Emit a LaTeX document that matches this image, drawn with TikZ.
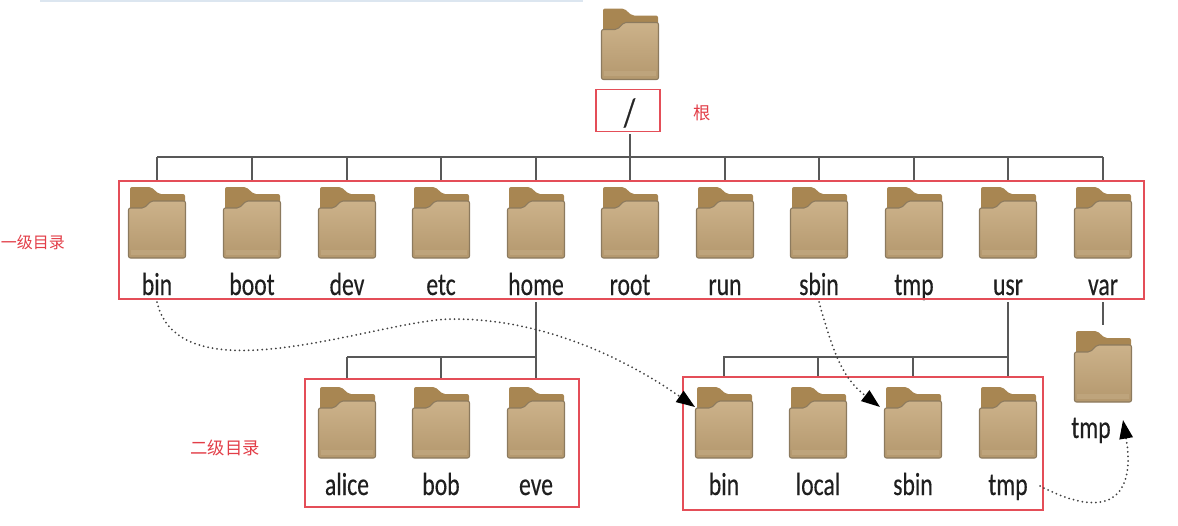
\documentclass[tikz,border=0pt]{standalone}
\usepackage{fontspec}
\setmainfont{Carlito}
\newfontfamily\dirfont[FakeStretch=0.74,FakeBold=0.3]{Carlito}
\newfontfamily\cjkfont{Noto Sans CJK SC}
\definecolor{boxred}{RGB}{228,78,88}
\definecolor{textred}{RGB}{226,62,72}
\definecolor{treegray}{RGB}{88,88,88}
\definecolor{tabbrown}{RGB}{168,134,82}
\definecolor{bodytop}{RGB}{204,178,138}
\definecolor{bodylow}{RGB}{180,152,110}
\definecolor{bodyband}{RGB}{190,164,124}
\definecolor{edgebrown}{RGB}{140,122,94}
\definecolor{stripblue}{RGB}{220,230,240}
\usetikzlibrary{positioning, arrows.meta, shadings}
\tikzset{
  dirname/.style={font=\dirfont\fontsize{24}{24}\selectfont, text=black!88, anchor=base, inner sep=0pt},
  redbox/.style={draw=boxred, line width=0.95pt},
  redtext/.style={font=\cjkfont\fontsize{13}{13}\selectfont, text=textred, inner sep=0pt},
  treeline/.style={draw=treegray, line width=1.1pt},
  linkwire/.style={-{Triangle[length=14pt,width=10pt,color=black,fill=black]}, black!75, line width=1.5pt, line cap=round, dash pattern=on 0pt off 3.4pt},
  folder/.pic={
    \node[minimum width=42.75pt, minimum height=53pt, inner sep=0pt] (box) at (0,0) {};
    \fill[tabbrown, rounded corners=1.5pt] (-27,20) -- (-27,-35.5) -- (-6,-35.5) -- (2,-28.5) -- (28,-28.5) -- (28,20) -- cycle;
    \draw[edgebrown, line width=0.8pt, top color=bodytop, bottom color=bodylow, rounded corners=1.5pt]
      (-28.5,35.5) -- (-28.5,-14.5) -- (-13,-14.5) -- (-6,-21.5) -- (28.5,-21.5) -- (28.5,35.5) -- cycle;
    \fill[bodyband] (-26,27) rectangle (26,32);
  }
}
\begin{document}
\begin{tikzpicture}[x=0.75pt, y=-0.75pt]
  \useasboundingbox (0,0) rectangle (1178,525);
  \fill[stripblue] (40,0) rectangle (583,2);

  % root
  \pic (root) at (630,44) {folder};
  \node[redbox, minimum width=48pt, minimum height=32pt, inner sep=0pt] (slash) at (628,110.5) {};
  \node[font=\dirfont\fontsize{30}{30}\selectfont, text=black!85, inner sep=0pt] (rootname) at (629.5,113) {/};
  \node[redtext] (gen) at (702,113) {根};
  \coordinate (busroot) at (630,157);
  \draw[treeline] (630,134) -- (busroot);

  % first level
  \draw[treeline] (157,157) -- (1103,157);
  \foreach \nm/\x in {bin/157,boot/252,dev/347,etc/441,home/536,root/630,run/725,sbin/819,tmp/914,usr/1008,var/1103} {
    \pic (\nm) at (\x,222.5) {folder};
    \node[dirname] (l\nm) at (\x,295) {\nm};
    \draw[treeline] (\x,157) -- (\x,181);
  }
  \node[redbox, minimum width=768.75pt, minimum height=88.5pt, inner sep=0pt] (levelone) at (631.5,240) {};
  \node[redtext, font=\cjkfont\fontsize{12}{13}\selectfont] (onetext) at (33,242) {一级目录};

  % second level, home
  \draw[treeline] (536,302) -- (536,357);
  \draw[treeline] (347,357) -- (536,357);
  \foreach \nm/\x in {alice/347,bob/441,eve/536} {
    \pic (\nm) at (\x,422.5) {folder};
    \node[dirname] (l\nm) at (\x,495) {\nm};
    \draw[treeline] (\x,357) -- (\x,379);
  }
  \node[redbox, minimum width=205.5pt, minimum height=96pt, inner sep=0pt] (hometree) at (442,443) {};
  \node[redtext] (twotext) at (225,448) {二级目录};

  % second level, usr
  \draw[treeline] (1008,302) -- (1008,357);
  \draw[treeline] (723,357) -- (1008,357);
  \foreach \nm/\x in {bin/724,local/818,sbin/913,tmp/1008} {
    \pic (u\nm) at (\x,422.5) {folder};
    \node[dirname] (lu\nm) at (\x,495) {\nm};
    \draw[treeline] (\x,357) -- (\x,378);
  }
  \node[redbox, minimum width=270pt, minimum height=99.75pt, inner sep=0pt] (usrtree) at (863,443.5) {};

  % var
  \pic (vtmp) at (1103,366.5) {folder};
  \node[dirname] (lvtmp) at (1091,438) {tmp};
  \draw[treeline] (1103,302) -- (1103,325);

  % links
  \coordinate (crest) at (453,319);
  \coordinate (binend) at (695,407);
  \coordinate (sbinend) at (880,407);
  \coordinate (tmpend) at (1123,420);
  \draw[linkwire] (157,302) .. controls (180,400) and (380,319) .. (crest)
    .. controls (540,319) and (620,355) .. (binend);
  \draw[linkwire] (819,302) .. controls (835,360) and (845,380) .. (sbinend);
  \draw[linkwire] (1040,486) .. controls (1115,525) and (1135,490) .. (tmpend);
\end{tikzpicture}
\end{document}
